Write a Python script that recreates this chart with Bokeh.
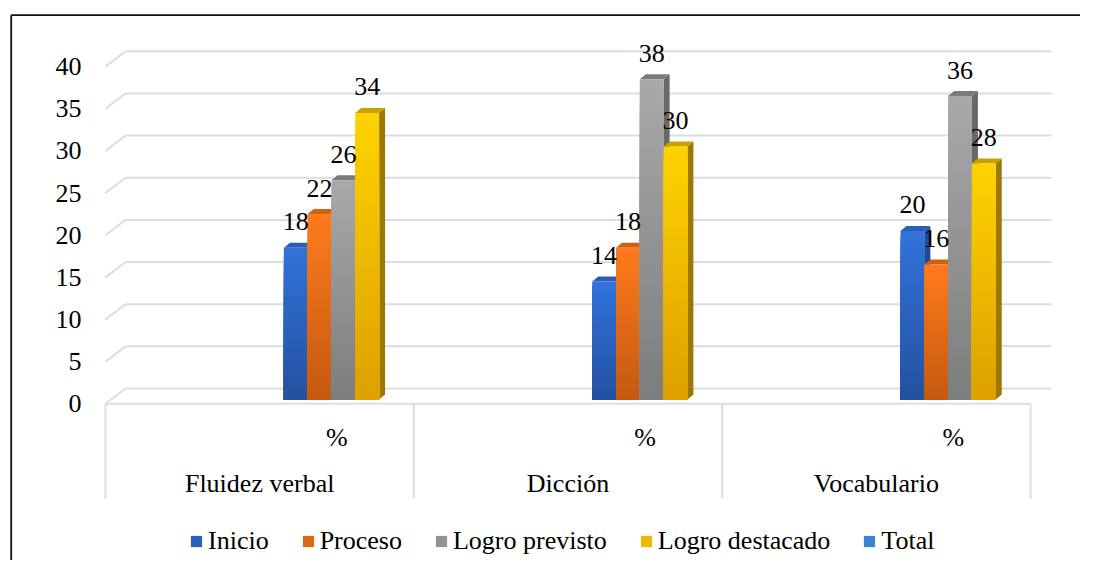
from bokeh.plotting import figure
from bokeh.models import (Range1d, LinearAxis, FixedTicker, ColumnDataSource,
                          Legend, LegendItem)
from bokeh.embed import file_html
from bokeh.resources import INLINE
from bokeh.core.properties import value

# ---------------- data ----------------
categories = ["Fluidez verbal", "Dicción", "Vocabulario"]
sub_label = "%"
series_names = ["Inicio", "Proceso", "Logro previsto", "Logro destacado", "Total"]
inicio = [18, 14, 20]
proceso = [22, 18, 16]
logro_previsto = [26, 38, 36]
logro_destacado = [34, 30, 28]
total = []  # no bars are drawn for "Total" (legend entry only)
y_ticks = [0, 5, 10, 15, 20, 25, 30, 35, 40]

series_values = [inicio, proceso, logro_previsto, logro_destacado]

# ---------------- styling ----------------
FONT = "Liberation Serif"
FS = "26px"
GRID = "#dadde6"
TOP_COL = ["#3173da", "#ff7b1c", "#a9a9a9", "#ffd200"]
BOT_COL = ["#2451a0", "#c4590f", "#7d7d7d", "#dda000"]
SIDE_COL = ["#22489a", "#b0520d", "#686868", "#9c7800"]
CAP_COL = ["#2b5db8", "#cf620f", "#7b7b7b", "#c8a000"]
TOTAL_COL = "#3a84d2"

# ---------------- layout (page pixels) ----------------
W, H = 1080, 560
ORIGIN = 0            # canvas sits at the page origin
X0_PAGE = 105.0       # left edge of first category (front plane)
PXC = 308.33          # pixels per category
Y0_PAGE = 403.3       # value 0 on the front plane
PPU = 8.43            # pixels per value unit


def ux(px):
    return (px - X0_PAGE) / PXC


def vy(py):
    return (Y0_PAGE - py) / PPU


x_range = Range1d(ux(ORIGIN), ux(ORIGIN + W))
y_range = Range1d(vy(ORIGIN + H), vy(ORIGIN))

BAR_LIFT = 4.3 / PPU          # bars sit a little behind the front plane
BACK_LIFT = 15.3 / PPU        # back wall
BACK_DX = 20.0 / PXC
BACK_END = ux(1051)
DEPTH_DX = 6.0 / PXC          # bar depth
DEPTH_DY = 5.0 / PPU
BAR_W = 0.0772
BAR_OFF = 0.0785
N_SLICES = 28

p = figure(width=W, height=H, x_range=x_range, y_range=y_range,
           x_axis_type=None, y_axis_type=None, toolbar_location=None,
           output_backend="svg", min_border=0, outline_line_color=None,
           background_fill_color="white", border_fill_color="white")
p.extra_y_ranges = {"bar": Range1d(y_range.start - BAR_LIFT, y_range.end - BAR_LIFT)}

# outer chart border (top and left edges visible)
bx = ux(10.7)
by = vy(14.7)
p.segment(x0=[bx, bx], y0=[by, by], x1=[x_range.end, bx], y1=[by, y_range.start],
          line_color="#111111", line_width=1.8)

# 3D gridlines: back wall + diagonal on the side wall
p.segment(x0=[BACK_DX] * len(y_ticks), y0=[t + BACK_LIFT for t in y_ticks],
          x1=[BACK_END] * len(y_ticks), y1=[t + BACK_LIFT for t in y_ticks],
          line_color=GRID, line_width=2)
p.segment(x0=[0] * len(y_ticks), y0=y_ticks,
          x1=[BACK_DX] * len(y_ticks), y1=[t + BACK_LIFT for t in y_ticks],
          line_color=GRID, line_width=2)
# floor front edge and category separators
n_cat = len(categories)
p.segment(x0=[0], y0=[0], x1=[n_cat], y1=[0], line_color=GRID, line_width=2)
sep_bottom = vy(498)
p.segment(x0=list(range(n_cat + 1)), y0=[0] * (n_cat + 1),
          x1=list(range(n_cat + 1)), y1=[sep_bottom] * (n_cat + 1),
          line_color=GRID, line_width=2)


def hex2rgb(h):
    h = h.lstrip("#")
    return tuple(int(h[i:i + 2], 16) for i in (0, 2, 4))


def lerp(c1, c2, f):
    a, b = hex2rgb(c1), hex2rgb(c2)
    return "#%02x%02x%02x" % tuple(int(round(a[i] + (b[i] - a[i]) * f)) for i in range(3))


legend_items = []
label_x, label_y, label_t = [], [], []
for j, vals in enumerate(series_values):
    xs, tops, cols = [], [], []
    side_x, side_y, cap_x, cap_y = [], [], [], []
    for i, v in enumerate(vals):
        xc = i + 0.5 + BAR_OFF + BAR_W * (j + 0.5)
        xl, xr = xc - BAR_W / 2, xc + BAR_W / 2
        for k in range(N_SLICES):
            f = (N_SLICES - k - 0.5) / N_SLICES
            xs.append(xc)
            tops.append(v * (N_SLICES - k) / N_SLICES)
            cols.append(lerp(BOT_COL[j], TOP_COL[j], f))
        side_x.append([xr, xr + DEPTH_DX, xr + DEPTH_DX, xr])
        side_y.append([0, DEPTH_DY, v + DEPTH_DY, v])
        cap_x.append([xl, xl + DEPTH_DX, xr + DEPTH_DX, xr])
        cap_y.append([v, v + DEPTH_DY, v + DEPTH_DY, v])
        label_x.append(xc)
        label_y.append(v)
        label_t.append(str(v))
    p.patches(xs=side_x, ys=side_y, fill_color=SIDE_COL[j], line_color=None,
              y_range_name="bar")
    p.patches(xs=cap_x, ys=cap_y, fill_color=CAP_COL[j], line_color=None,
              y_range_name="bar")
    src = ColumnDataSource(dict(x=xs, top=tops, color=cols))
    r = p.vbar(x="x", width=BAR_W, bottom=0, top="top", fill_color="color",
               line_color=None, source=src, y_range_name="bar")
    legend_items.append(LegendItem(label=series_names[j], renderers=[r],
                                   index=N_SLICES // 2))

# "Total" series has no bars, only a legend entry
nan = float("nan")
tot_src = ColumnDataSource(dict(x=[nan], top=[nan]))
tot = p.vbar(x="x", width=BAR_W, bottom=0, top="top", fill_color=TOTAL_COL,
             line_color=None, source=tot_src, y_range_name="bar")
legend_items.append(LegendItem(label=series_names[4], renderers=[tot], index=0))

# data labels
p.text(x=label_x, y=label_y, text=label_t, y_range_name="bar", y_offset=-26,
       text_align="center", text_baseline="middle",
       text_font=value(FONT), text_font_size=FS, text_color="black")

# category labels (inner "%" level and outer names)
cat_x = [i + 0.5 for i in range(n_cat)]
p.text(x=[c + 0.25 for c in cat_x], y=[vy(436.5)] * n_cat, text=[sub_label] * n_cat,
       text_align="center", text_baseline="middle",
       text_font=value(FONT), text_font_size=FS, text_color="black")
p.text(x=cat_x, y=[vy(482.5)] * n_cat, text=categories,
       text_align="center", text_baseline="middle",
       text_font=value(FONT), text_font_size=FS, text_color="black")

# value axis
yaxis = LinearAxis(ticker=FixedTicker(ticks=y_ticks), fixed_location=0,
                   axis_line_color=None, major_tick_line_color=None,
                   minor_tick_line_color=None, major_tick_out=0, major_tick_in=0,
                   major_label_standoff=24,
                   major_label_text_font=FONT, major_label_text_font_size=FS,
                   major_label_text_color="black")
p.add_layout(yaxis, "left")

legend = Legend(items=legend_items, orientation="horizontal",
                location=(189 - ORIGIN, 4), glyph_width=14, glyph_height=14,
                label_standoff=5, spacing=32, padding=0, margin=0,
                border_line_color=None, background_fill_alpha=0,
                label_text_font=FONT, label_text_font_size=FS,
                label_text_color="black")
p.add_layout(legend)

open("out.html", "w").write(file_html(p, INLINE))
